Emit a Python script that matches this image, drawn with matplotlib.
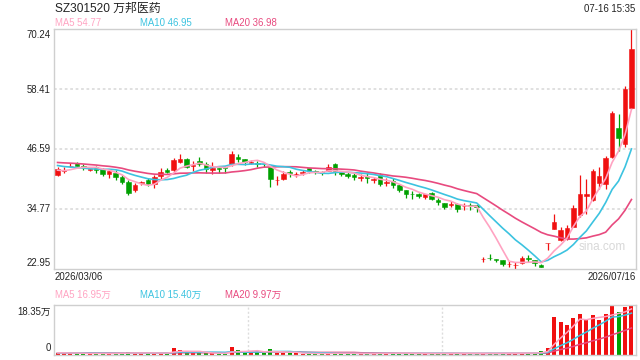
import numpy as np
import pandas as pd
import matplotlib
matplotlib.use("Agg")
import matplotlib.pyplot as plt

plt.rcParams['font.family'] = ['Liberation Sans', 'Noto Sans CJK SC', 'DejaVu Sans']

# ---------------- data ----------------
title = "SZ301520 万邦医药"
timestamp = "07-16 15:35"
start_label = "2026/03/06"
end_label = "2026/07/16"
price_ticks = [70.24, 58.41, 46.59, 34.77, 22.95]
price_tick_labels = ["70.24", "58.41", "46.59", "34.77", "22.95"]
vol_max = 18.35
vol_tick_labels = ["18.35万", "0"]
ma_price_text = ["MA5 54.77", "MA10 46.95", "MA20 36.98"]
ma_vol_text = ["MA5 16.95万", "MA10 15.40万", "MA20 9.97万"]

opens = [41.6, 42.3, 43.3, 43.9, 43.4, 42.6, 43.1, 42.7, 41.7, 42.0,
         41.1, 40.15, 38.5, 39.9, 40.6, 39.8, 41.3, 42.5, 42.46, 44.0,
         44.6, 43.4, 44.2, 43.6, 42.46, 42.9, 43.1, 43.7, 45.1, 44.6,
         43.9, 43.8, 43.7, 43.05, 40.5, 40.7, 42.1, 41.6, 41.9, 42.9,
         42.25, 42.1, 42.3, 43.6, 42.25, 41.8, 41.6, 41.0, 41.4, 40.6,
         41.5, 39.9, 40.4, 39.5, 38.5, 37.85, 37.7, 37.1, 37.9, 36.7,
         36.1, 35.56, 35.8, 35.4, 35.6, 35.55, 24.9, 25.2, 25.06, 24.7,
         23.9, 23.7, 24.2, 25.1, 24.7, 23.7, 28.08, 30.83, 28.66, 29.0,
         31.3, 33.6, 37.3, 36.55, 39.95, 39.7, 45.08, 50.8, 47.7, 54.8]
highs = [43.1, 43.1, 43.9, 44.0, 43.7, 43.0, 43.4, 42.9, 42.8, 42.5,
         41.6, 40.5, 39.9, 40.4, 41.0, 41.6, 43.0, 42.9, 44.9, 45.6,
         44.9, 44.3, 45.1, 44.0, 44.0, 42.9, 43.3, 46.3, 45.6, 44.6,
         44.5, 44.2, 44.0, 43.2, 41.3, 42.3, 42.6, 42.2, 42.5, 42.9,
         42.5, 42.4, 43.6, 43.8, 42.3, 42.2, 42.0, 41.8, 42.0, 41.1,
         42.0, 41.0, 40.9, 39.7, 38.5, 38.3, 37.9, 37.85, 38.1, 37.0,
         36.1, 36.4, 36.0, 36.0, 36.0, 35.7, 25.45, 25.9, 25.06, 24.7,
         24.5, 24.3, 25.5, 25.7, 24.7, 24.0, 28.08, 33.9, 31.3, 31.6,
         35.6, 41.6, 40.8, 42.8, 43.1, 45.3, 54.2, 53.6, 59.0, 70.24]
lows = [41.3, 42.0, 43.1, 43.3, 42.6, 42.3, 42.0, 41.3, 41.0, 40.5,
        39.8, 37.5, 38.2, 39.6, 39.4, 39.0, 40.8, 41.9, 41.9, 43.8,
        42.9, 42.3, 43.3, 41.9, 41.8, 41.9, 41.9, 43.3, 44.0, 43.5,
        43.7, 43.2, 43.2, 39.2, 39.5, 40.5, 41.1, 41.1, 41.6, 41.9,
        41.7, 41.6, 42.3, 41.6, 41.4, 40.9, 40.6, 40.3, 40.0, 39.9,
        39.3, 39.3, 38.9, 38.1, 37.0, 36.9, 37.0, 36.9, 36.6, 35.7,
        34.9, 35.3, 34.2, 34.7, 34.6, 34.3, 24.4, 24.7, 24.3, 23.6,
        23.4, 22.95, 24.0, 24.4, 23.6, 23.4, 26.7, 30.8, 28.5, 28.8,
        31.2, 33.2, 33.9, 36.4, 38.85, 38.85, 44.9, 46.2, 47.0, 54.6]
closes = [42.8, 42.6, 43.4, 43.4, 43.1, 42.7, 42.6, 41.7, 42.3, 41.1,
          40.15, 38.0, 39.5, 40.1, 39.8, 41.1, 42.1, 42.2, 44.4, 44.6,
          43.1, 43.5, 43.7, 42.65, 42.9, 42.7, 43.0, 45.6, 44.6, 44.1,
          44.1, 43.7, 43.6, 40.7, 40.6, 41.7, 41.9, 41.8, 42.1, 42.3,
          42.1, 42.0, 43.2, 42.25, 41.7, 41.3, 41.1, 41.1, 40.9, 40.7,
          39.7, 40.1, 39.6, 38.5, 37.7, 37.7, 37.3, 37.7, 36.9, 36.2,
          35.2, 35.9, 34.8, 35.5, 35.4, 35.3, 25.0, 25.1, 24.7, 23.9,
          24.05, 23.75, 25.1, 24.9, 24.2, 23.4, 28.08, 32.27, 30.63, 31.0,
          35.1, 37.8, 37.7, 42.4, 41.33, 44.9, 53.8, 48.8, 58.5, 66.4]
volumes = [0.9, 0.7, 0.6, 0.6, 0.5, 0.5, 0.6, 0.6, 0.5, 0.6,
           0.7, 1.0, 0.8, 0.5, 0.6, 0.8, 0.9, 0.6, 2.4, 2.0,
           1.0, 0.7, 0.6, 0.8, 0.7, 0.5, 0.5, 2.8, 1.7, 1.0,
           1.2, 1.2, 0.8, 2.1, 0.9, 0.8, 0.6, 0.7, 0.5, 0.6,
           0.5, 0.5, 0.7, 0.8, 0.6, 0.5, 0.5, 0.5, 0.6, 0.5,
           0.8, 0.6, 0.6, 0.7, 0.7, 0.5, 0.5, 0.5, 0.6, 0.6,
           0.6, 0.5, 0.7, 0.5, 0.5, 0.5, 0.6, 0.6, 0.5, 0.7,
           0.6, 0.7, 0.8, 0.6, 0.7, 1.5, 2.6, 14.1, 12.1, 11.1,
           13.5, 15.1, 12.9, 14.6, 12.9, 15.1, 17.9, 15.7, 17.5, 18.35]
# estimated sessions before the visible window (only feed the moving averages)
prior_closes = [44.2, 44.5, 44.8, 45.0, 44.9, 44.6, 44.7, 44.4, 44.5, 44.4,
                44.6, 44.5, 44.3, 44.2, 44.0, 43.1, 42.4, 42.0, 42.1]
prior_volumes = [0.8, 0.7, 0.9, 0.8, 0.7, 0.8, 0.9, 0.7, 0.8, 0.7,
                 0.8, 0.7, 0.8, 0.9, 0.7, 0.8, 0.8, 0.7, 0.8]

# ---------------- styles ----------------
RED = '#f01010'
GREEN = '#00a000'
C_MA5 = '#ffa3c2'
C_MA10 = '#3cc3e0'
C_MA20 = '#e84a7f'
BORDER = '#cfcfcf'
GRID = '#dddddd'
TXT = '#222222'

W, H = 640, 360
fig = plt.figure(figsize=(W / 100, H / 100), dpi=100)
fig.patch.set_facecolor('white')


def fx(x):
    return x / W


def fy(y):
    return 1 - y / H


n = len(closes)
x = np.arange(n)
o = np.array(opens); h = np.array(highs); l = np.array(lows); c = np.array(closes)
v = np.array(volumes)
up = c >= o
cols = np.where(up, RED, GREEN)

full_c = pd.Series(prior_closes + closes)
full_v = pd.Series(prior_volumes + volumes)
k = len(prior_closes)
ma = {p: full_c.rolling(p).mean().to_numpy()[k:] for p in (5, 10, 20)}
vma = {p: full_v.rolling(p).mean().to_numpy()[k:] for p in (5, 10, 20)}

# ---------------- price panel ----------------
ax = fig.add_axes([fx(54), fy(269.3), fx(582), 240 / H])
ax.set_xlim(-0.55, n - 1 + 0.7)
ax.set_ylim(price_ticks[-1], price_ticks[0])
for gy in price_ticks[1:-1]:
    ax.axhline(gy, color=GRID, lw=1.3, ls=(0, (1.5, 1.5)), zorder=0)
ax.text(0.982, 0.093, 'sina.com', transform=ax.transAxes, ha='right', va='center',
        fontsize=8.5, color='#d8d8d8', zorder=1)
ax.vlines(x, l, h, colors=cols, lw=0.9, zorder=2)
body = np.abs(c - o)
ax.bar(x, np.maximum(body, 0.08), bottom=np.minimum(o, c), width=0.7,
       color=cols, edgecolor=cols, lw=0.4, zorder=3)
ax.plot(x, ma[20], color=C_MA20, lw=1.2, zorder=4)
ax.plot(x, ma[10], color=C_MA10, lw=1.2, zorder=4)
ax.plot(x, ma[5], color=C_MA5, lw=1.2, zorder=4)
ax.set_xticks([]); ax.set_yticks([])
for s in ax.spines.values():
    s.set_color(BORDER); s.set_linewidth(1)

# ---------------- volume panel ----------------
axv = fig.add_axes([fx(54), fy(355), fx(582), 50 / H])
axv.set_xlim(-0.55, n - 1 + 0.7)
axv.set_ylim(0, vol_max)
for fr in (1 / 3, 2 / 3):
    axv.plot([fr, fr], [0, 1], transform=axv.transAxes, color=GRID, lw=1.0,
             ls=(0, (1.5, 1.5)), zorder=0)
axv.bar(x, v, width=0.62, color=cols, zorder=2)
axv.plot(x, vma[20], color=C_MA20, lw=1.1, zorder=3)
axv.plot(x, vma[10], color=C_MA10, lw=1.1, zorder=3)
axv.plot(x, vma[5], color=C_MA5, lw=1.1, zorder=3)
axv.set_xticks([]); axv.set_yticks([])
for s in axv.spines.values():
    s.set_color(BORDER); s.set_linewidth(1)

# ---------------- texts ----------------
fs = 6.9
fig.text(fx(55), fy(9), title, fontsize=8.6, color=TXT, ha='left', va='center')
fig.text(fx(635), fy(9), timestamp, fontsize=fs, color=TXT, ha='right', va='center')
for t, xx, cc in zip(ma_price_text, (55, 140, 225), (C_MA5, C_MA10, C_MA20)):
    fig.text(fx(xx), fy(23.5), t, fontsize=fs, color=cc, ha='left', va='center')
ylab_pos = [35, 90, 149.3, 209.3, 263]
for t, yy in zip(price_tick_labels, ylab_pos):
    fig.text(fx(51), fy(yy), t, fontsize=fs, color=TXT, ha='right', va='center')
fig.text(fx(55), fy(277), start_label, fontsize=fs, color=TXT, ha='left', va='center')
fig.text(fx(636), fy(277), end_label, fontsize=fs, color=TXT, ha='right', va='center')
for t, xx, cc in zip(ma_vol_text, (55, 140, 225), (C_MA5, C_MA10, C_MA20)):
    fig.text(fx(xx), fy(295), t, fontsize=fs, color=cc, ha='left', va='center')
for t, yy in zip(vol_tick_labels, (312, 348)):
    fig.text(fx(51), fy(yy), t, fontsize=fs, color=TXT, ha='right', va='center')

fig.savefig('out.png', dpi=100)
